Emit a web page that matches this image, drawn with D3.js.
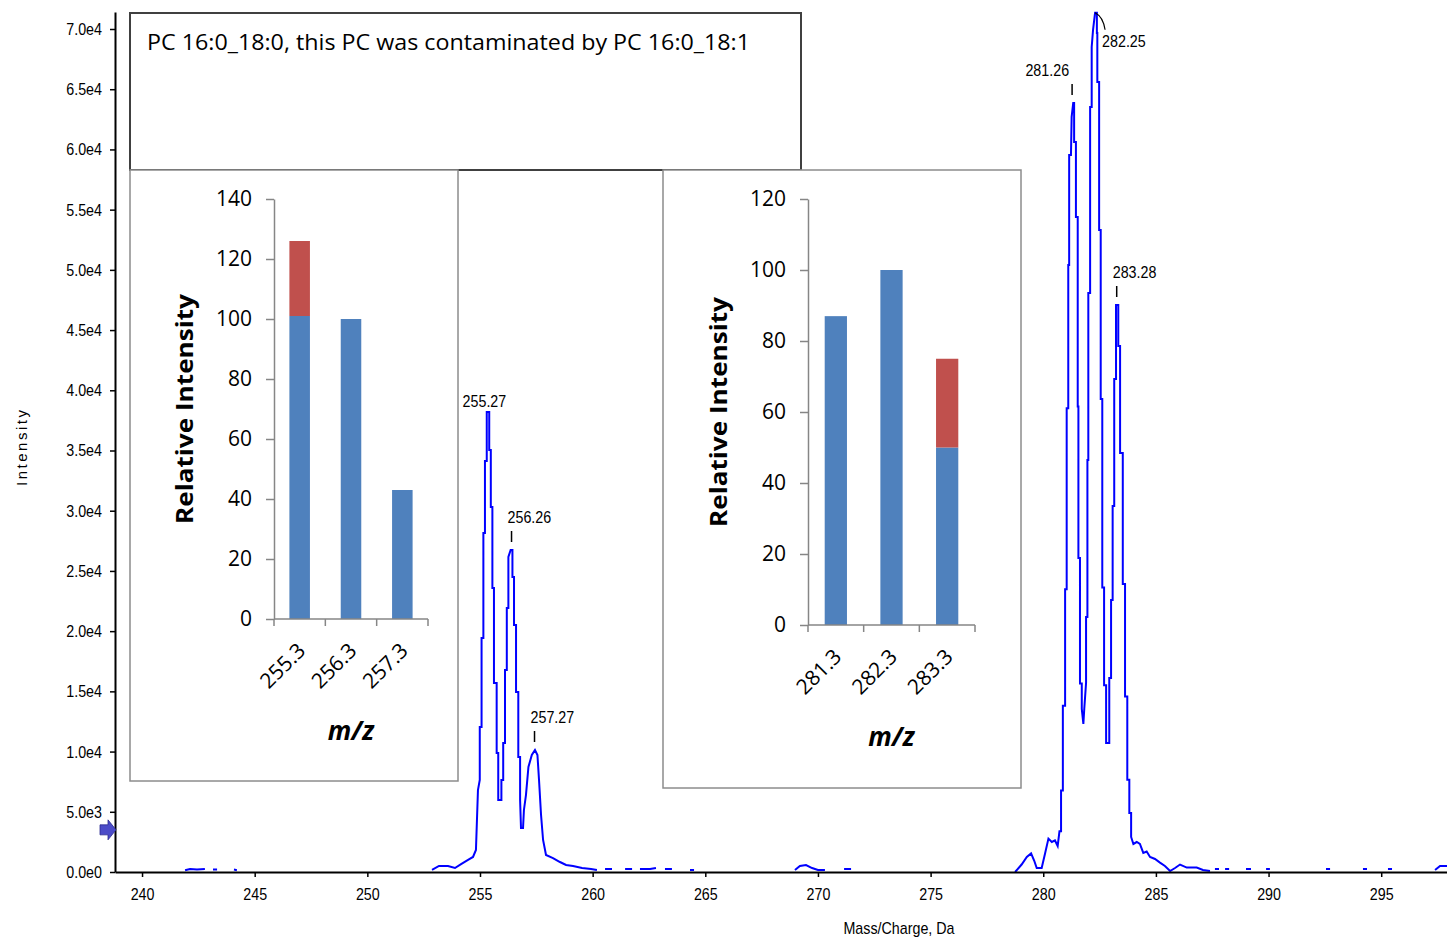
<!DOCTYPE html>
<html>
<head>
<meta charset="utf-8">
<script src="https://cdn.jsdelivr.net/npm/d3@7"></script>
<style>
  body { margin: 0; background: #fff; }
  svg { display: block; }
</style>
</head>
<body>
<div class="container"></div>
<script>
(function(){
  // profile spectrum: [m/z, intensity], null = gap in the trace
  const spectrum = [
    [241.91,150],[242.13,250],[242.44,200],[242.79,250], null,
    [243.15,200],[243.33,200], null,
    [244.08,200],[244.21,150], null,
    [252.87,170],[253.18,500],[253.58,500],[253.89,330],[254.16,660],[254.47,1000],[254.69,1250],[254.82,1830],[254.91,6810],
    [254.99,7640],[254.99,12040],[255.07,12040],[255.07,19430],[255.15,19430],[255.15,28150],[255.22,28150],[255.22,34130],
    [255.30,34130],[255.30,38200],[255.41,38200],[255.41,35040],[255.48,35040],[255.48,30310],[255.55,30310],[255.55,23580],
    [255.62,23580],[255.62,15700],[255.74,15700],[255.74,9880],[255.81,9880],[255.81,5980],[255.89,5980],
    [255.95,5980],[255.95,7640],[256.03,7640],[256.03,10710],[256.11,10710],[256.11,16770],[256.19,16770],[256.19,21920],
    [256.26,21920],[256.26,26160],[256.36,26740],[256.44,26740],[256.44,24500],[256.51,24500],[256.51,20510],[256.60,20510],
    [256.60,14950],[256.70,14950],[256.70,9550],[256.78,9550],[256.78,5980],[256.82,3650],[256.91,3650],[256.95,5150],
    [257.04,6390],[257.15,8720],[257.30,9720],[257.44,10130],[257.55,9720],[257.62,7640],[257.71,4730],[257.80,2660],
    [257.93,1410],[258.24,1160],[258.55,830],[258.82,580],[259.13,500],[259.53,330],[259.93,250],[260.19,170], null,
    [260.55,250],[260.86,250], null,
    [261.44,250],[261.75,250], null,
    [262.10,250],[262.55,250],[262.81,330], null,
    [263.21,250],[263.52,250], null,
    [264.32,170],[264.50,170], null,
    [268.98,170],[269.20,500],[269.47,580],[269.74,330],[270.00,170],[270.31,170], null,
    [271.16,250],[271.47,250], null,
    [278.75,0],[279.04,620],[279.27,1250],[279.46,1540],[279.60,930],[279.71,330],[279.93,330],[280.08,1540],[280.23,2770],
    [280.38,2490],[280.52,2620],[280.64,2160],[280.72,3380],[280.79,3380],[280.79,6760],[280.87,6760],[280.87,13810],
    [280.97,13810],[280.97,23470],[281.04,23470],[281.04,38500],[281.11,38500],[281.11,50400],[281.15,50400],[281.15,59540],
    [281.23,59540],[281.26,62700],[281.33,63860],[281.37,63860],[281.37,60620],[281.45,60620],[281.45,54390],[281.53,54390],
    [281.53,38650],[281.56,38650],[281.56,26080],[281.63,26080],[281.63,15650],[281.71,15650],[281.71,13540],[281.78,12290],
    [281.82,13540],[281.90,15700],[281.90,21180],[281.96,21180],[281.96,34210],[282.00,34210],[282.00,48080],[282.08,48080],
    [282.08,63530],[282.15,63530],[282.15,68510],[282.21,69920],[282.30,71350],[282.38,71350],[282.38,69670],[282.40,69670],
    [282.40,65600],[282.48,65600],[282.48,53310],[282.55,53310],[282.55,39280],[282.62,39280],[282.62,23630],[282.70,23630],
    [282.70,15500],[282.79,15500],[282.79,10710],[282.93,10710],[282.93,16110],[283.01,16110],[283.01,22590],[283.08,22590],
    [283.08,30390],[283.15,30390],[283.15,40940],[283.23,40940],[283.23,47080],[283.33,47080],[283.33,43680],[283.41,43680],
    [283.41,34790],[283.53,34790],[283.53,23920],[283.63,23920],[283.63,14570],[283.73,14570],[283.73,7670],[283.82,7670],
    [283.82,4900],[283.90,4900],[283.90,2910],[284.00,2330],[284.15,2490],[284.29,2330],[284.44,1580],[284.59,1700],
    [284.74,1250],[284.96,1080],[285.18,780],[285.40,500],[285.63,80],[285.85,330],[286.07,620],[286.37,370],[286.81,370],
    [287.09,170],[287.40,80], null,
    [287.62,250],[287.80,250], null,
    [288.07,250],[288.25,250], null,
    [289.00,250],[289.22,250], null,
    [289.89,250],[290.06,250], null,
    [292.55,250],[292.73,250], null,
    [294.19,250],[294.37,250], null,
    [295.30,250],[295.48,250], null,
    [297.39,170],[297.61,500],[297.92,500]
  ];

  const peakLabels = ['255.27', '256.26', '257.27', '281.26', '282.25', '283.28'];
  const peakMz     = [255.33, 256.40, 257.42, 281.28, 282.30, 283.26];
  const peakTop    = [38200, 26740, 10130, 63860, 71350, 47080];
  const peakStyle  = ['above', 'tick', 'tick', 'tickLeft', 'curve', 'tick'];

  const xTicks = [240, 245, 250, 255, 260, 265, 270, 275, 280, 285, 290, 295];
  const yTicks = [0, 5000, 10000, 15000, 20000, 25000, 30000, 35000, 40000, 45000, 50000, 55000, 60000, 65000, 70000];

  const title = 'PC 16:0_18:0, this PC was contaminated by PC 16:0_18:1';

  // inset bar charts
  const leftCats  = ['255.3', '256.3', '257.3'];
  const leftBase  = [101, 100, 43];
  const leftExtra = [25, 0, 0];
  const leftTicks = [0, 20, 40, 60, 80, 100, 120, 140];

  const rightCats  = ['281.3', '282.3', '283.3'];
  const rightBase  = [87, 100, 50];
  const rightExtra = [0, 0, 25];
  const rightTicks = [0, 20, 40, 60, 80, 100, 120];

  const config = {w: 1447, h: 941};
  const narrow = '"Liberation Sans", Arial, sans-serif';
  const office = '"Open Sans","Noto Sans",sans-serif';
  const barColor = {base: '#4f81bd', extra: '#c0504d'};

  // squeeze text horizontally to mimic the condensed instrument font
  function squeeze(sel, k) {
    sel.each(function() {
      const n = this.getComputedTextLength();
      d3.select(this).attr('textLength', n * k).attr('lengthAdjust', 'spacingAndGlyphs');
    });
  }

  const svg = d3.select('.container').append('svg')
    .attr('width', config.w)
    .attr('height', config.h);

  const x = d3.scaleLinear().domain([238.8, 297.92]).range([115, 1447]);
  const y = d3.scaleLinear().domain([0, 71412]).range([872, 12]);

  // spectrum trace
  const line = d3.line()
    .defined(d => d !== null)
    .x(d => x(d[0]))
    .y(d => y(d[1]));

  svg.append('path')
    .datum(spectrum)
    .attr('fill', 'none')
    .attr('stroke', '#0000ff')
    .attr('stroke-width', 2)
    .attr('d', line);

  // main axes
  const yAxis = svg.append('g')
    .attr('transform', `translate(${x.range()[0]},0)`)
    .call(d3.axisLeft(y)
      .tickValues(yTicks)
      .tickSize(5)
      .tickSizeOuter(0)
      .tickPadding(8)
      .tickFormat(d => d.toExponential(1).replace('+', '')));

  const xAxis = svg.append('g')
    .attr('transform', `translate(0,${y.range()[0]})`)
    .call(d3.axisBottom(x)
      .tickValues(xTicks)
      .tickSize(5)
      .tickSizeOuter(0)
      .tickPadding(11));

  [yAxis, xAxis].forEach(a => {
    a.select('.domain').attr('stroke', '#000').attr('stroke-width', 2);
    a.selectAll('.tick line').attr('stroke', '#000').attr('stroke-width', 1.5);
    a.selectAll('.tick text')
      .attr('font-family', narrow)
      .attr('font-size', 17)
      .attr('fill', '#000')
      .call(squeeze, 0.84);
  });

  svg.append('text')
    .attr('transform', `translate(27,${(y.range()[0] + y.range()[1]) / 2 + 6}) rotate(-90)`)
    .attr('text-anchor', 'middle')
    .attr('font-family', narrow)
    .attr('font-size', 15)
    .attr('textLength', 76)
    .attr('lengthAdjust', 'spacing')
    .text('Intensity');

  svg.append('text')
    .attr('x', 899)
    .attr('y', 934)
    .attr('text-anchor', 'middle')
    .attr('font-family', narrow)
    .attr('font-size', 17)
    .text('Mass/Charge, Da')
    .call(squeeze, 0.84);

  // small arrow marker on the y axis
  const ay = y(3500);
  svg.append('path')
    .attr('d', `M100 ${ay - 5} H108 V${ay - 10} L116 ${ay} L108 ${ay + 10} V${ay + 5} H100 Z`)
    .attr('fill', '#4b4bc8')
    .attr('stroke', '#2a2a90')
    .attr('stroke-width', 0.8);

  // peak annotations
  const ann = svg.append('g')
    .attr('font-family', narrow)
    .attr('font-size', 17)
    .attr('fill', '#000');

  peakLabels.forEach((lab, i) => {
    const px = x(peakMz[i]);
    const py = y(peakTop[i]);
    const s = peakStyle[i];
    let t;
    if (s === 'above') {
      t = ann.append('text').attr('x', px - 3).attr('y', py - 5).attr('text-anchor', 'middle').text(lab);
    } else if (s === 'curve') {
      ann.append('path')
        .attr('d', `M${px} ${py} Q${px + 8} ${py + 4} ${px + 10} ${py + 17}`)
        .attr('fill', 'none').attr('stroke', '#000').attr('stroke-width', 1.2);
      t = ann.append('text').attr('x', px + 7).attr('y', py + 34).text(lab);
    } else {
      ann.append('line')
        .attr('x1', px).attr('x2', px)
        .attr('y1', py - 19).attr('y2', py - 8)
        .attr('stroke', '#000').attr('stroke-width', 1.5);
      t = ann.append('text')
        .attr('x', s === 'tickLeft' ? px - 3 : px - 4)
        .attr('y', py - 27)
        .attr('text-anchor', s === 'tickLeft' ? 'end' : 'start')
        .text(lab);
    }
    t.call(squeeze, 0.84);
  });

  // title box
  svg.append('rect')
    .attr('x', 130).attr('y', 13)
    .attr('width', 671).attr('height', 157)
    .attr('fill', '#fff')
    .attr('stroke', '#404040')
    .attr('stroke-width', 2);

  svg.append('text')
    .attr('x', 147).attr('y', 50)
    .attr('font-family', office)
    .attr('font-size', 21)
    .attr('textLength', 603)
    .attr('lengthAdjust', 'spacingAndGlyphs')
    .text(title);

  function drawInset(o) {
    const g = svg.append('g');

    g.append('rect')
      .attr('x', o.box[0]).attr('y', o.box[1])
      .attr('width', o.box[2]).attr('height', o.box[3])
      .attr('fill', '#fff')
      .attr('stroke', '#8c8c8c')
      .attr('stroke-width', 1.5);

    const iy = d3.scaleLinear().domain([0, o.ticks[o.ticks.length - 1]]).range([o.plot[3], o.plot[1]]);
    const ix = d3.scaleBand().domain(o.cats).range([o.plot[0], o.plot[2]]).paddingInner(0.6).paddingOuter(0.3);

    const rows = o.cats.map((c, i) => ({cat: c, base: o.base[i], extra: o.extra[i]}));
    const series = d3.stack().keys(['base', 'extra'])(rows);

    g.selectAll('g.series')
      .data(series)
      .join('g')
        .attr('class', 'series')
        .attr('fill', d => barColor[d.key])
      .selectAll('rect')
      .data(d => d)
      .join('rect')
        .attr('x', d => ix(d.data.cat))
        .attr('width', ix.bandwidth())
        .attr('y', d => iy(d[1]))
        .attr('height', d => iy(d[0]) - iy(d[1]));

    const ya = g.append('g')
      .attr('transform', `translate(${o.plot[0]},0)`)
      .call(d3.axisLeft(iy).tickValues(o.ticks).tickSize(8).tickSizeOuter(0).tickPadding(14));
    ya.select('.domain').attr('stroke', '#868686').attr('stroke-width', 1.5);
    ya.selectAll('.tick line').attr('stroke', '#868686').attr('stroke-width', 1.5);
    ya.selectAll('.tick text')
      .attr('font-family', office)
      .attr('font-size', 21)
      .attr('fill', '#000');

    // category axis with boundary ticks
    const base = iy(0);
    g.append('line')
      .attr('x1', o.plot[0]).attr('x2', o.plot[2])
      .attr('y1', base).attr('y2', base)
      .attr('stroke', '#868686').attr('stroke-width', 1.5);
    g.selectAll('line.bound')
      .data(d3.range(o.cats.length + 1))
      .join('line')
        .attr('class', 'bound')
        .attr('x1', i => o.plot[0] + i * ix.step())
        .attr('x2', i => o.plot[0] + i * ix.step())
        .attr('y1', base).attr('y2', base + 7)
        .attr('stroke', '#868686').attr('stroke-width', 1.5);

    g.selectAll('text.cat')
      .data(o.cats)
      .join('text')
        .attr('class', 'cat')
        .attr('transform', d => `translate(${ix(d) + ix.bandwidth() / 2 + 7},${base + 33}) rotate(-45)`)
        .attr('text-anchor', 'end')
        .attr('font-family', office)
        .attr('font-size', 21)
        .text(d => d);

    g.append('text')
      .attr('x', ix(o.cats[1]) + ix.bandwidth() / 2)
      .attr('y', base + 121)
      .attr('text-anchor', 'middle')
      .attr('font-family', office)
      .attr('font-size', 26)
      .attr('font-weight', 'bold')
      .attr('font-style', 'italic')
      .text('m/z');

    g.append('text')
      .attr('transform', `translate(${o.plot[0] - 81},${(o.plot[1] + o.plot[3]) / 2}) rotate(-90)`)
      .attr('text-anchor', 'middle')
      .attr('font-family', office)
      .attr('font-size', 24)
      .attr('font-weight', 'bold')
      .attr('textLength', 230)
      .attr('lengthAdjust', 'spacingAndGlyphs')
      .text('Relative Intensity');
  }

  drawInset({box: [130, 170, 328, 611], plot: [274, 199, 428, 619],
    cats: leftCats, base: leftBase, extra: leftExtra, ticks: leftTicks});
  drawInset({box: [663, 170, 358, 618], plot: [808, 199, 975, 625],
    cats: rightCats, base: rightBase, extra: rightExtra, ticks: rightTicks});
})();
</script>
</body>
</html>
